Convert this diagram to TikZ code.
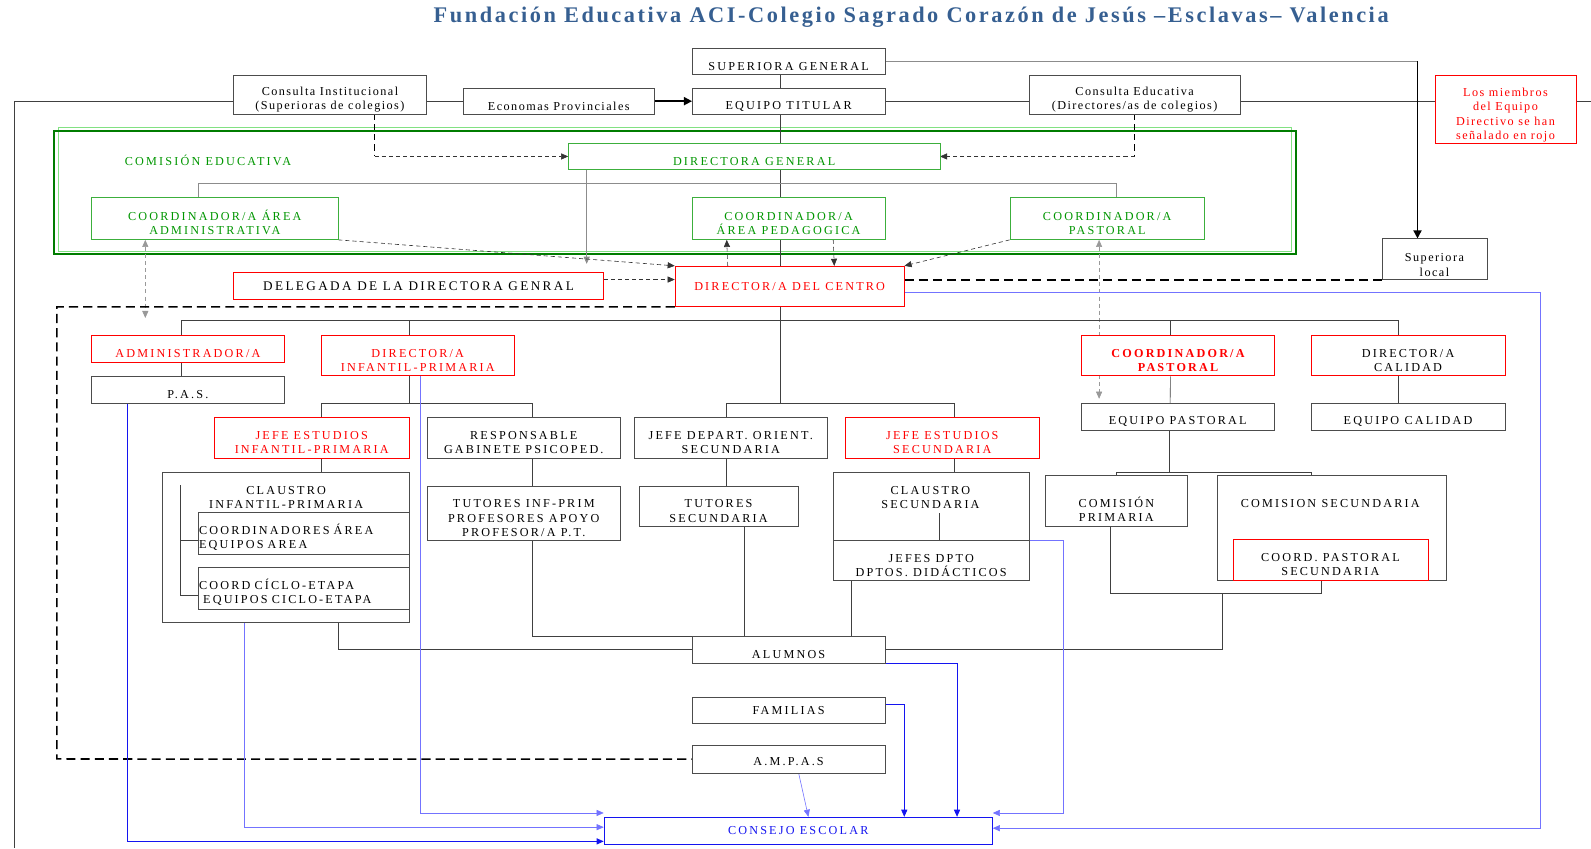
\documentclass[tikz,border=0pt]{standalone}
\usepackage{fontspec}
\setmainfont{Liberation Serif}
\newfontfamily\letrafam[LetterSpace=18]{Liberation Serif}
\newfontfamily\minusfam[LetterSpace=12]{Liberation Serif}
\newfontfamily\titfam[LetterSpace=11.5]{Liberation Serif}
\usetikzlibrary{arrows.meta, backgrounds}
\definecolor{titazul}{RGB}{54,95,145}
\definecolor{verdetxt}{RGB}{0,150,0}
\definecolor{verdecaja}{RGB}{60,175,60}
\definecolor{verdeosc}{RGB}{0,125,0}
\definecolor{verdeclaro}{RGB}{130,225,130}
\definecolor{rojo}{RGB}{255,0,0}
\definecolor{azulc}{RGB}{115,115,255}
\definecolor{azulo}{RGB}{20,20,240}
\newcommand{\letra}{\letrafam\fontsize{12}{14}\selectfont}
\newcommand{\minus}{\minusfam\fontsize{12}{14}\selectfont}
\newcommand{\arr}{\rule{0pt}{18pt}}

\begin{document}
\begin{tikzpicture}[x=1pt, y=-1pt,
	caja/.style={draw=black!70, fill=white, anchor=north west, inner sep=1pt, align=center, font=\letra},
	baja/.style={execute at begin node={\arr}},
	verde/.style={caja, draw=verdecaja, text=verdetxt},
	roja/.style={caja, draw=rojo, text=rojo},
	bordeRojo/.style={caja, draw=rojo},
	etiq/.style={inner sep=0pt, align=center, font=\letra},
	linea/.style={draw=black!75, line width=0.6pt},
	glinea/.style={draw=black!45, line width=0.6pt},
	flecha/.style={-{Triangle[length=7pt,width=6pt]}},
	dobleflecha/.style={{Triangle[length=7pt,width=6pt]}-{Triangle[length=7pt,width=6pt]}},
	discont/.style={draw=black!80, line width=0.6pt, dash pattern=on 4pt off 3pt},
	gdiscont/.style={draw=black!40, line width=0.6pt, dash pattern=on 4pt off 3pt},
	medio/.style={draw=black, line width=1.3pt, dash pattern=on 6pt off 4pt},
	gruesa/.style={draw=black, line width=1.6pt, -{Triangle[length=8pt,width=8pt]}},
	trazo/.style={draw=black, line width=1.5pt, dash pattern=on 9pt off 5pt},
	azul/.style={draw=azulc, line width=0.6pt, flecha},
	azulf/.style={draw=azulo, line width=0.8pt, flecha}]
\useasboundingbox (0,0) rectangle (1568,836);

% titulo
\node[font=\titfam\bfseries\fontsize{22}{26}\selectfont, text=titazul] (titulo) at (898,17)
	{Fundación Educativa ACI-Colegio Sagrado Corazón de Jesús –Esclavas– Valencia};

% puntos de paso
\coordinate (hl) at (0,100);
\coordinate (esqizq) at (14,836);
\coordinate (esqder) at (1568,100);
\coordinate (bajada) at (1397,0);
\coordinate (ejefin) at (769,397);
\coordinate (dl) at (56,748);
\coordinate (brk) at (1205,585);
\coordinate (clt) at (178,478);

% fila superior
\node[caja, baja, minimum width=190, minimum height=26] (supgen) at (682,47) {SUPERIORA GENERAL};
\node[caja, baja, minimum width=190, minimum height=25] (eqtit) at (682,87) {EQUIPO TITULAR};
\node[caja, font=\minus, minimum width=190, minimum height=38] (cinst) at (230,74) {\arr Consulta Institucional\\(Superioras de colegios)};
\node[caja, baja, font=\minus, minimum width=189, minimum height=25] (econ) at (456,87) {Economas Provinciales};
\node[caja, font=\minus, minimum width=208, minimum height=38] (cedu) at (1014,74) {\arr Consulta Educativa\\(Directores/as de colegios)};
\node[roja, font=\minus, minimum width=139, minimum height=66] (nota) at (1414,74) {\rule{0pt}{20pt}Los miembros\\del Equipo\\Directivo se han\\señalado en rojo};
\node[caja, font=\minus, minimum width=103, minimum height=40] (suploc) at (1362,235) {\rule{0pt}{20pt}Superiora\\local};

% comision educativa
\node[etiq, text=verdetxt] (comed) at (205,158) {COMISIÓN EDUCATIVA};
\node[verde, baja, minimum width=366, minimum height=26] (dirgen) at (560,141) {DIRECTORA GENERAL};
\node[verde, minimum width=243, minimum height=42] (cadm) at (90,194) {\arr COORDINADOR/A ÁREA\\ADMINISTRATIVA};
\node[verde, minimum width=190, minimum height=42] (cped) at (682,194) {\arr COORDINADOR/A\\ÁREA PEDAGOGICA};
\node[verde, minimum width=192, minimum height=42] (cpas) at (995,194) {\arr COORDINADOR/A\\PASTORAL};

% direccion del centro
\node[bordeRojo, line width=1pt, font=\letrafam\fontsize{13}{15}\selectfont, minimum width=364, minimum height=27] (deleg) at (230,268) {DELEGADA DE LA DIRECTORA GENRAL};
\node[roja, minimum width=226, minimum height=40] (dircen) at (665,262) {DIRECTOR/A DEL CENTRO};

% segundo nivel
\node[roja, baja, minimum width=190, minimum height=27] (admin) at (90,330) {ADMINISTRADOR/A};
\node[caja, baja, minimum width=190, minimum height=26] (pas) at (90,371) {P.A.S.};
\node[roja, minimum width=191, minimum height=40] (dirip) at (316,330) {\arr DIRECTOR/A\\INFANTIL-PRIMARIA};
\node[roja, line width=1pt, font=\letrafam\bfseries\fontsize{12}{14}\selectfont, minimum width=191, minimum height=40] (cpasr) at (1065,330) {\arr COORDINADOR/A\\PASTORAL};
\node[bordeRojo, minimum width=191, minimum height=40] (dircal) at (1292,330) {\arr DIRECTOR/A\\CALIDAD};
\node[caja, baja, minimum width=191, minimum height=27] (eqpas) at (1065,397) {EQUIPO PASTORAL};
\node[caja, baja, minimum width=191, minimum height=27] (eqcal) at (1292,397) {EQUIPO CALIDAD};

% tercer nivel
\node[roja, minimum width=192, minimum height=40] (jeip) at (211,411) {\arr JEFE ESTUDIOS\\INFANTIL-PRIMARIA};
\node[caja, minimum width=190, minimum height=40] (gab) at (421,411) {\arr RESPONSABLE\\GABINETE PSICOPED.};
\node[caja, minimum width=190, minimum height=40] (jdo) at (625,411) {\arr JEFE DEPART. ORIENT.\\SECUNDARIA};
\node[roja, minimum width=191, minimum height=40] (jes) at (833,411) {\arr JEFE ESTUDIOS\\SECUNDARIA};

% claustros y comisiones
\node[caja, minimum width=243, minimum height=148] (claip) at (160,465) {};
\node[etiq] (claiptxt) at (282,490) {CLAUSTRO\\INFANTIL-PRIMARIA};
\node[caja, align=left, text width=206, minimum height=41] (ca) at (195,505) {\arr COORDINADORES ÁREA\\EQUIPOS AREA};
\node[caja, align=left, text width=206, minimum height=41] (cc) at (195,559) {\arr COORD CÍCLO-ETAPA\\\hspace{4pt}EQUIPOS CICLO-ETAPA};
\node[caja, minimum width=190, minimum height=53] (tutip) at (421,479) {\arr TUTORES INF-PRIM\\PROFESORES APOYO\\PROFESOR/A P.T.};
\node[caja, minimum width=156, minimum height=39] (tutsec) at (630,479) {\arr TUTORES\\SECUNDARIA};
\node[caja, minimum width=193, minimum height=67] (clasec) at (821,465) {};
\node[etiq] (clasectxt) at (917,490) {CLAUSTRO\\SECUNDARIA};
\node[caja, minimum width=193, minimum height=40] (jdpto) at (821,532) {\arr JEFES DPTO\\DPTOS. DIDÁCTICOS};
\node[caja, minimum width=140, minimum height=50] (compri) at (1030,468) {\rule{0pt}{28pt}COMISIÓN\\PRIMARIA};
\node[caja, minimum width=226, minimum height=104] (comsec) at (1199,468) {};
\node[etiq] (comsectxt) at (1311,496) {COMISION SECUNDARIA};
\node[bordeRojo, minimum width=192, minimum height=41] (cpsec) at (1215,531) {\arr COORD. PASTORAL\\SECUNDARIA};

% base
\node[caja, baja, minimum width=190, minimum height=26] (alum) at (682,627) {ALUMNOS};
\node[caja, minimum width=190, minimum height=26] (fam) at (682,687) {FAMILIAS};
\node[caja, minimum width=190, minimum height=28] (ampas) at (682,734) {\rule{0pt}{13pt}A.M.P.A.S};
\node[caja, draw=azulo, text=azulo, minimum width=383, minimum height=27] (consejo) at (595,805) {CONSEJO ESCOLAR};

% lineas internas de los claustros
\draw[linea] ([yshift=-7]cc.west) -| (clt);
\draw[linea] ([yshift=-7]ca.west) -- ++(-17,0);
\draw[linea] ([xshift=8.5]jdpto.north) -- ++(0,-26);

\begin{scope}[on background layer]
	% marco verde
	\draw[verdeclaro, line width=1pt] (58,126) rectangle (1273,248);
	\draw[verdeosc, line width=2pt] (53,129) rectangle (1277,250);

	% fila superior
	\draw[linea] (cinst.west |- hl) -| (esqizq);
	\draw[linea] (cinst.east |- hl) -- (econ.west |- hl);
	\draw[gruesa] (econ.east) -- (eqtit.west);
	\draw[linea] (eqtit.east |- hl) -- (cedu.west |- hl);
	\draw[linea] (cedu.east |- hl) -- (nota.west |- hl);
	\draw[linea] (nota.east |- hl) -- (esqder);
	\draw[linea] (supgen.south -| ejefin) -- (ejefin);
	\draw[glinea] (supgen.east) -- (supgen.east -| bajada);
	\draw[gruesa] (supgen.east -| bajada) -- (suploc.north -| bajada);

	% consultas
	\draw[medio] ([xshift=44]cinst.south) -- ([xshift=44]cinst.south |- dirgen.west) coordinate (ci);
	\draw[discont, flecha] (ci) -- (dirgen.west);
	\draw[medio] (cedu.south) -- (cedu.south |- dirgen.east) coordinate (ce);
	\draw[discont, flecha] (ce) -- (dirgen.east);

	% comision educativa
	\draw[glinea] ([xshift=-16.5]cadm.north) -- ++(0,-13) -| ([xshift=9]cpas.north);
	\draw[glinea, flecha, shorten >=8pt] ([xshift=-165]dirgen.south) -- ([xshift=-165]dirgen.south |- deleg.north);
	\draw[discont, flecha] (cadm.south east) -- (dircen.north west);
	\draw[discont, flecha] ([xshift=-61]dircen.north) -- ([xshift=-61]cped.south);
	\draw[discont, flecha] ([xshift=44]cped.south) -- ([xshift=44]dircen.north);
	\draw[discont, flecha] (cpas.south west) -- (dircen.north east);
	\draw[discont, flecha] ([yshift=6.5]deleg.east) -- ([yshift=6.5]deleg.east -| dircen.west);
	\draw[gdiscont, dobleflecha] ([xshift=-68.5]cadm.south) -- ++(0,77);
	\draw[gdiscont, dobleflecha, shorten >=4pt] ([xshift=-8]cpas.south) -- ([xshift=-8]cpas.south |- eqpas.north);
	\draw[trazo] ([yshift=6]dircen.east) -- ([yshift=6]dircen.east -| suploc.west);
	\draw[trazo] (dircen.south west) -| (dl) -- (ampas.west);

	% segundo nivel
	\draw[linea] ([xshift=-7]admin.north) -- ++(0,-14) -| ([xshift=-9.5]dircal.north);
	\draw[linea] ([xshift=-8.5]dirip.north) -- ++(0,-14);
	\draw[linea] ([xshift=-7.5]cpasr.north) -- ++(0,-14);
	\draw[linea] ([xshift=-7]admin.south) -- ([xshift=-7]pas.north);
	\draw[linea] ([xshift=-7.5]cpasr.south) -- ([xshift=-7.5]eqpas.north);
	\draw[linea] ([xshift=-9.5]dircal.south) -- ([xshift=-9.5]eqcal.north);

	% tercer nivel
	\draw[linea] ([xshift=-8.5]dirip.south) -- ++(0,27);
	\draw[linea] ([xshift=9]jeip.north) -- ++(0,-14) -| ([xshift=8]gab.north);
	\draw[linea] ([xshift=-4]jdo.north) -- ++(0,-14) -| ([xshift=11.5]jes.north);
	\draw[linea] ([xshift=9]jeip.south) -- ([xshift=9]jeip.south |- claip.north);
	\draw[linea] ([xshift=8]gab.south) -- ([xshift=8]gab.south |- tutip.north);
	\draw[linea] ([xshift=-4]jdo.south) -- ([xshift=-4]jdo.south |- tutsec.north);
	\draw[linea] ([xshift=11.5]jes.south) -- ([xshift=11.5]jes.south |- clasec.north);
	\draw[linea] ([xshift=-8]eqpas.south) -- ++(0,41);
	\draw[linea] (compri.north) -- ++(0,-3) -| ([xshift=-20]comsec.north);

	% hacia alumnos
	\draw[linea] ([xshift=-6]compri.south) |- (brk) -| ([xshift=-9]cpsec.south);
	\draw[linea] (alum.east) -| (brk);
	\draw[linea] ([xshift=51.5]claip.south) |- (alum.west);
	\draw[linea] ([xshift=8]tutip.south) |- (alum.north west);
	\draw[linea] ([xshift=25]tutsec.south) -- ([xshift=25]tutsec.south |- alum.north);
	\draw[linea] ([xshift=-78.5]jdpto.south) -- ([xshift=-78.5]jdpto.south |- alum.north);

	% consejo escolar
	\draw[azulf] ([xshift=-60]pas.south) |- ([yshift=-10.5]consejo.west);
	\draw[azul] ([xshift=-40.5]claip.south) |- ([yshift=3.5]consejo.west);
	\draw[azul] ([xshift=2.5]dirip.south) |- ([yshift=17.5]consejo.west);
	\draw[azul] ([xshift=10]ampas.south) -- ([xshift=10]consejo.north);
	\draw[azulf] ([yshift=6]fam.east) -| ([xshift=104.5]consejo.north);
	\draw[azulf] (alum.south east) -| ([xshift=156.5]consejo.north);
	\draw[azul] (jdpto.north east) -- ++(34,0) |- ([yshift=17.5]consejo.east);
	\draw[azul] ([yshift=-6]dircen.east) -- ++(627,0) |- ([yshift=2.5]consejo.east);
\end{scope}
\end{tikzpicture}
\end{document}
